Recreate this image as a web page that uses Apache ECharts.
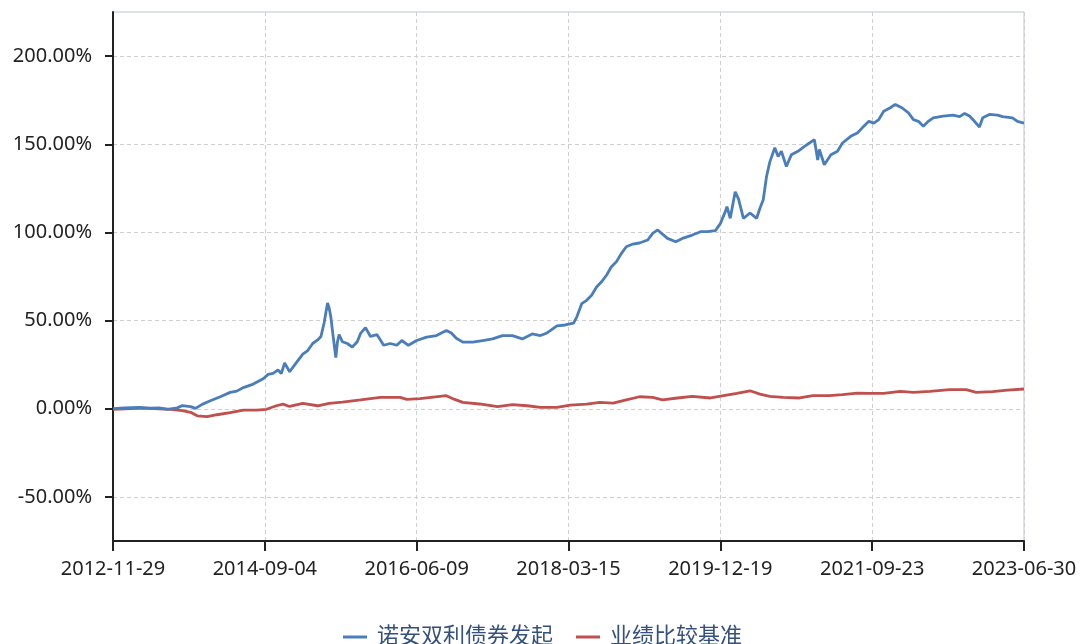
<!DOCTYPE html>
<html>
<head>
<meta charset="utf-8">
<script src="https://cdn.jsdelivr.net/npm/echarts@6/dist/echarts.min.js"></script>
<style>
html,body{margin:0;padding:0;background:#fff;}
#chart{width:1085px;height:644px;}
</style>
</head>
<body>
<div id="chart"></div>
<script>
// x = weeks since 2012-11-29
const tickLabels = ['2012-11-29','2014-09-04','2016-06-09','2018-03-15','2019-12-19','2021-09-23','2023-06-30'];
const yTicks = [-50,0,50,100,150,200];
const seriesNames = ['诺安双利债券发起','业绩比较基准'];

const fundSeries = [
  [0,0],[7,0.5],[16,0.8],[22,0.3],[28,0.5],[33,-0.3],[39,0.5],[42,1.8],[47,1.2],[50,0.2],
  [54,2.5],[59,4.5],[65,6.8],[71,9.3],[75,10],[79,12],[85,14],[91,17],[94,19.5],[97,20],
  [100,22],[102,20],[104,26],[107,21],[111,26],[115,31],[118,33],[121,37],[124,39],[126,41],
  [128,49],[130,60],[131,57],[132,52],[133,44],[135,29],[136,38],[137,42],[139,38],[142,37],
  [145,35],[148,38],[150,42.7],[153,46],[156,41],[160,42],[164,36],[168,37],[172,36],[175,38.7],
  [179,36],[184,38.7],[190,40.6],[196,41.5],[202,44.4],[205,43],[208,40],[212,37.8],[218,37.8],[224,38.7],
  [230,39.6],[236,41.5],[242,41.5],[248,39.6],[254,42.4],[259,41.5],[263,43],[269,47],[274,47.5],[279,48.5],
  [281,52],[284,59.6],[287,61.5],[290,64.4],[293,69],[296,72],[299,75.7],[302,80.5],[305,83.3],[308,88],
  [311,91.9],[315,93.4],[319,94],[324,95.7],[327,99.5],[330,101.4],[331,100.5],[336,96.6],[341,94.7],[345,96.6],
  [351,98.5],[356,100.4],[360,100.5],[365,101],[368,105],[371,111.8],[372,114.6],[374,108],[377,123],[379,119],
  [382,108],[386,111],[390,108],[392,113.7],[394,118.5],[396,131.7],[398,140],[401,148],[403,143],[405,146],
  [408,137.4],[411,144],[415,146],[419,148.8],[422,150.7],[425,152.6],[427,141],[428,147],[431,138.4],[435,144],
  [439,146],[442,150.7],[447,154.5],[451,156.4],[454,159.3],[458,163],[461,162],[464,164],[467,168.7],[471,170.7],
  [474,172.6],[478,170.7],[482,167.8],[485,164],[488,163],[491,160.2],[494,163],[497,165],[503,166],[509,166.5],
  [513,165.7],[516,167.5],[519,166],[522,163],[525,159.8],[527,165],[531,166.9],[536,166.5],[539,165.7],[545,165],
  [548,163],[552,162]
];

const benchSeries = [
  [0,-0.3],[18,0.4],[28,0],[35,-0.4],[42,-1.1],[47,-2],[51,-4],[57,-4.5],[63,-3.4],[71,-2.2],
  [79,-0.8],[87,-0.8],[93,-0.3],[99,1.7],[103,2.6],[107,1.3],[115,3],[124,1.7],[131,3],[139,3.8],
  [150,5],[162,6.4],[174,6.4],[178,5.3],[186,5.8],[194,6.6],[202,7.4],[207,5.3],[212,3.6],[222,2.7],
  [233,1.2],[242,2.3],[251,1.7],[259,0.8],[269,0.8],[277,2],[287,2.6],[295,3.6],[303,3.2],[311,5],
  [319,6.8],[327,6.4],[333,5],[342,6.1],[351,7],[362,6.1],[370,7.4],[378,8.7],[386,10.2],[392,8.3],
  [398,7],[406,6.4],[416,6.1],[424,7.4],[434,7.4],[442,8],[451,8.9],[459,8.7],[467,8.7],[477,9.9],
  [485,9.3],[495,9.9],[507,10.8],[517,10.8],[523,9.3],[533,9.7],[542,10.6],[552,11.2]
];

const FONT = '"Noto Sans","Noto Sans CJK SC",sans-serif';
const chart = echarts.init(document.getElementById('chart'), null, {renderer:'canvas'});
chart.setOption({
  animation:false,
  backgroundColor:'#fff',
  grid:{left:113,right:61,top:12,bottom:103,show:true,borderColor:'#b9c6d8',borderWidth:1,containLabel:false},
  legend:{
    left:'center', top:621, icon:'rect', itemWidth:24, itemHeight:3, itemGap:23,
    textStyle:{fontFamily:FONT,fontSize:22,color:'#34507e',padding:[0,0,0,5]},
    data:seriesNames
  },
  xAxis:{
    type:'value', min:0, max:552, interval:92,
    axisLine:{show:true,onZero:false,lineStyle:{color:'#222',width:2}},
    axisTick:{show:true,length:10,lineStyle:{color:'#222',width:2}},
    axisLabel:{margin:18,fontFamily:FONT,fontSize:20,color:'#222',
      formatter:function(v){return tickLabels[Math.round(v/92)] || '';}},
    splitLine:{show:true,lineStyle:{color:'#cfcfcf',type:[4,3],width:1}}
  },
  yAxis:{
    type:'value', min:-75, max:225,
    axisLine:{show:true,onZero:false,lineStyle:{color:'#222',width:2}},
    axisTick:{show:true,length:8,customValues:yTicks,lineStyle:{color:'#222',width:2}},
    axisLabel:{margin:21,fontFamily:FONT,fontSize:20,color:'#222',customValues:yTicks,
      formatter:function(v){return v.toFixed(2)+'%';}},
    splitLine:{show:true,lineStyle:{color:'#cfcfcf',type:[4,3],width:1}}
  },
  series:[
    {name:seriesNames[0],type:'line',data:fundSeries,symbol:'none',
      lineStyle:{color:'#4a7ebb',width:2.8},itemStyle:{color:'#4a7ebb'},z:3},
    {name:seriesNames[1],type:'line',data:benchSeries,symbol:'none',
      lineStyle:{color:'#c0504d',width:2.8},itemStyle:{color:'#c0504d'},z:2}
  ]
});
</script>
</body>
</html>
